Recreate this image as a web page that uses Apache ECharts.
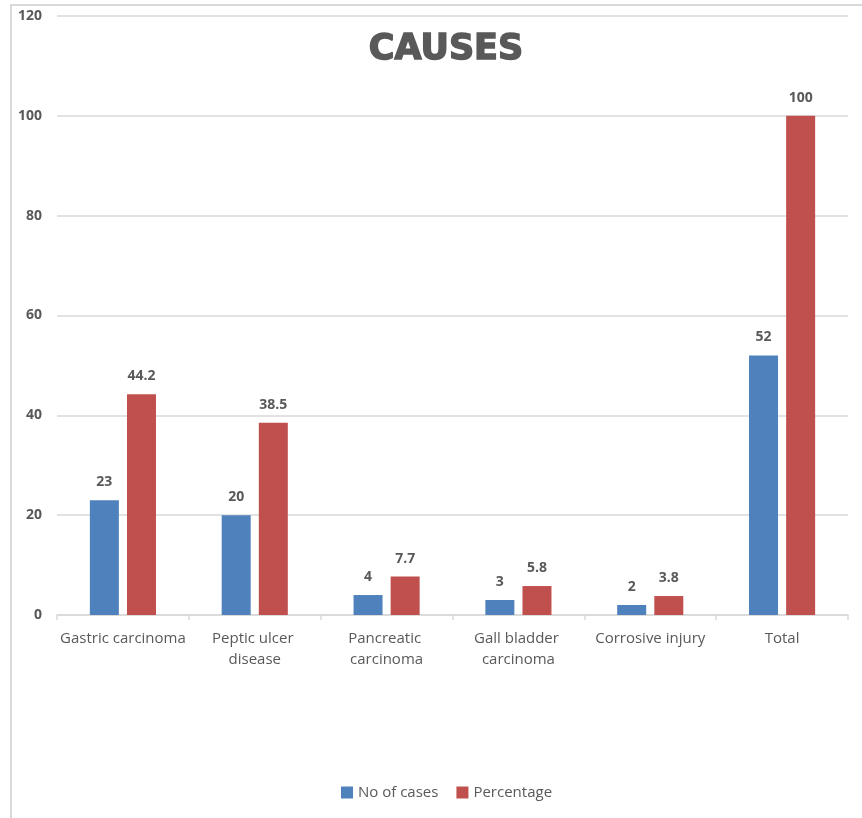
<!DOCTYPE html>
<html>
<head>
<meta charset="utf-8">
<script src="https://cdn.jsdelivr.net/npm/echarts@6/dist/echarts.min.js"></script>
<style>
  html, body { margin: 0; padding: 0; background: #fff; }
  #chart { width: 862px; height: 818px; }
</style>
</head>
<body>
<div id="chart"></div>
<script>
  var causes = ['Gastric carcinoma', 'Peptic ulcer disease', 'Pancreatic carcinoma', 'Gall bladder carcinoma', 'Corrosive injury', 'Total']
  var noOfCases = [23, 20, 4, 3, 2, 52]
  var percentage = [44.2, 38.5, 7.7, 5.8, 3.8, 100]
  var yTicks = [0, 20, 40, 60, 80, 100, 120]

  var textColor = '#595959'
  var font = '"Open Sans", Lato, sans-serif'

  var chart = echarts.init(document.getElementById('chart'))

  var valueLabel = {
    show: true,
    position: 'top',
    distance: 11,
    color: textColor,
    fontFamily: font,
    fontSize: 14,
    fontWeight: 'bold'
  }

  var option = {
    animation: false,
    backgroundColor: '#fff',
    graphic: [{
      type: 'rect',
      shape: { x: 11, y: 5, width: 900, height: 900 },
      style: { fill: 'none', stroke: '#d9d9d9', lineWidth: 2 },
      silent: true
    }],
    title: {
      text: 'CAUSES',
      left: 441,
      textAlign: 'center',
      top: 27,
      textStyle: {
        color: textColor,
        fontFamily: '"DejaVu Sans", sans-serif',
        fontSize: 35,
        fontWeight: 'bold',
        textBorderColor: textColor,
        textBorderWidth: 1.5
      }
    },
    legend: {
      bottom: 13,
      left: 336,
      itemWidth: 12,
      itemGap: 18,
      itemHeight: 12,
      icon: 'rect',
      textStyle: { color: textColor, fontFamily: font, fontSize: 15 },
      data: ['No of cases', 'Percentage']
    },
    grid: {
      left: 57,
      right: 14,
      top: 16,
      bottom: 203,
      containLabel: false
    },
    xAxis: {
      type: 'category',
      data: causes,
      axisLine: { lineStyle: { color: '#d9d9d9', width: 1.5 } },
      axisTick: { show: true, length: 5, lineStyle: { color: '#d9d9d9', width: 1.5 } },
      axisLabel: {
        color: textColor,
        fontFamily: font,
        fontSize: 15,
        margin: 13,
        lineHeight: 21,
        width: 130,
        overflow: 'break',
        interval: 0
      }
    },
    yAxis: {
      type: 'value',
      min: yTicks[0],
      max: yTicks[yTicks.length - 1],
      interval: 20,
      axisLine: { show: false },
      axisTick: { show: false },
      splitLine: { lineStyle: { color: '#d9d9d9', width: 1.5 } },
      axisLabel: {
        color: textColor,
        fontFamily: font,
        fontSize: 14,
        fontWeight: 'bold',
        margin: 15
      }
    },
    series: [
      {
        name: 'No of cases',
        type: 'bar',
        data: noOfCases,
        barWidth: 29,
        barGap: '28%',
        itemStyle: { color: '#4f81bd' },
        label: valueLabel
      },
      {
        name: 'Percentage',
        type: 'bar',
        data: percentage,
        barWidth: 29,
        itemStyle: { color: '#c0504d' },
        label: valueLabel
      }
    ]
  }

  chart.setOption(option)
</script>
</body>
</html>
